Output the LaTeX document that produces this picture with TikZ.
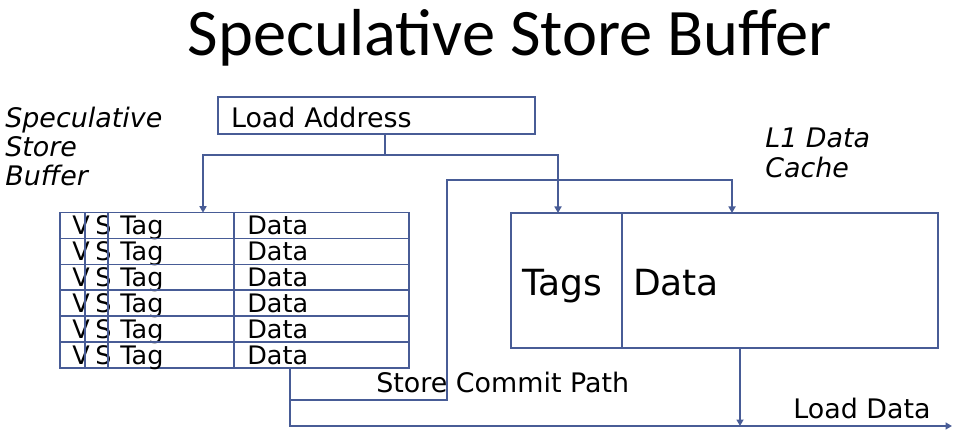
\documentclass[tikz,border=0pt]{standalone}
\usepackage{fontspec}
\setmainfont{DejaVu Sans}
\newfontfamily\titlefont{Carlito}
\usepackage{tikz}
\usetikzlibrary{arrows.meta,positioning,calc}
\definecolor{wirecol}{RGB}{72,92,150}

\begin{document}
\begin{tikzpicture}[
    box/.style={draw=wirecol, line width=0.9pt, inner sep=0pt, outer sep=0pt},
    rowbox/.style={box, minimum width=6.98cm, minimum height=0.5167cm},
    cachebox/.style={box, minimum height=2.7cm, inner xsep=0.22cm, align=left,
                     text height=0.58cm, text depth=0cm,
                     font=\fontsize{20.5}{22}\selectfont},
    arrow/.style={-{Triangle[length=1.3mm,width=1.4mm]}, line width=0.9pt, color=wirecol},
    wire/.style={line width=0.9pt, color=wirecol},
    aside/.style={font=\fontsize{15.3}{16.6}\selectfont\itshape, align=left,
                  inner sep=0pt, anchor=base west},
    label/.style={font=\fontsize{15.3}{18}\selectfont, inner sep=0pt, anchor=base west},
    cell/.style={font=\fontsize{14.5}{16}\selectfont, inner sep=0pt, anchor=base west}
]
\useasboundingbox (0,0) rectangle (19.4,-8.84);

\node[font=\titlefont\fontsize{37.8}{40}\selectfont, anchor=base] (title)
     at (10.2,-1.12) {Speculative Store Buffer};

% address box
\node[box, minimum width=6.34cm, minimum height=0.74cm, inner xsep=0.26cm,
      text width=5.82cm, text height=0.5cm, text depth=0cm, align=left,
      font=\fontsize{15.3}{18}\selectfont]
      (addr) at (7.53,-2.31) {Load Address};

% store buffer entries
\foreach \i in {0,...,5}{
  \node[rowbox] (row\i) at (4.69,{-4.254-0.5167*(\i+0.5)}) {};
  \node[cell] (v\i)   at ($(row\i.north west)+(0.24,-0.446)$) {V};
  \node[cell] (s\i)   at ($(row\i.north west)+(0.70,-0.446)$) {S};
  \node[cell] (tag\i) at ($(row\i.north west)+(1.20,-0.446)$) {Tag};
  \node[cell] (dat\i) at ($(row\i.north west)+(3.74,-0.446)$) {Data};
}
\foreach \x in {0.5,0.96,3.48}
  \draw[wire] ($(row0.north west)+(\x,0)$) -- ($(row5.south west)+(\x,0)$);

% data cache
\node[cachebox, minimum width=2.22cm, text width=1.78cm] (tags) at (11.33,-5.61) {Tags};
\node[cachebox, minimum width=6.32cm, text width=5.88cm, right=0pt of tags] (cdata) {Data};

\node[aside] (sblabel) at (0.1,-3.72) {Speculative\\Store\\Buffer};
\node[aside, font=\fontsize{15.3}{17.6}\selectfont\itshape] (l1label)
     at (15.3,-3.56) {L1 Data\\Cache};
\node[label] (commit) at (7.52,-7.84) {Store Commit Path};
\node[label] (loaddata) at (15.86,-8.36) {Load Data};

% connectors
\coordinate (split) at ($(addr.south)+(0.17,-0.42)$);
\coordinate (sbout) at ($(row5.south west)+(4.6,0)$);
\coordinate (cout)  at ($(cdata.south west)+(2.36,0)$);
\coordinate (out)   at (19.04,-8.52);
\draw[wire] (addr.south -| split) -- (split);
\draw[arrow] (split) -| ($(row0.north west)+(2.86,0)$);
\draw[arrow] (split) -| ($(tags.north west)+(0.94,0)$);
\draw[arrow] (sbout) -- ++(0,-0.646) -| ++(3.14,4.4) -| ($(cdata.north west)+(2.2,0)$);
\draw[arrow] (sbout) |- (out);
\draw[arrow] (cout) -- (cout |- out);
\end{tikzpicture}
\end{document}
